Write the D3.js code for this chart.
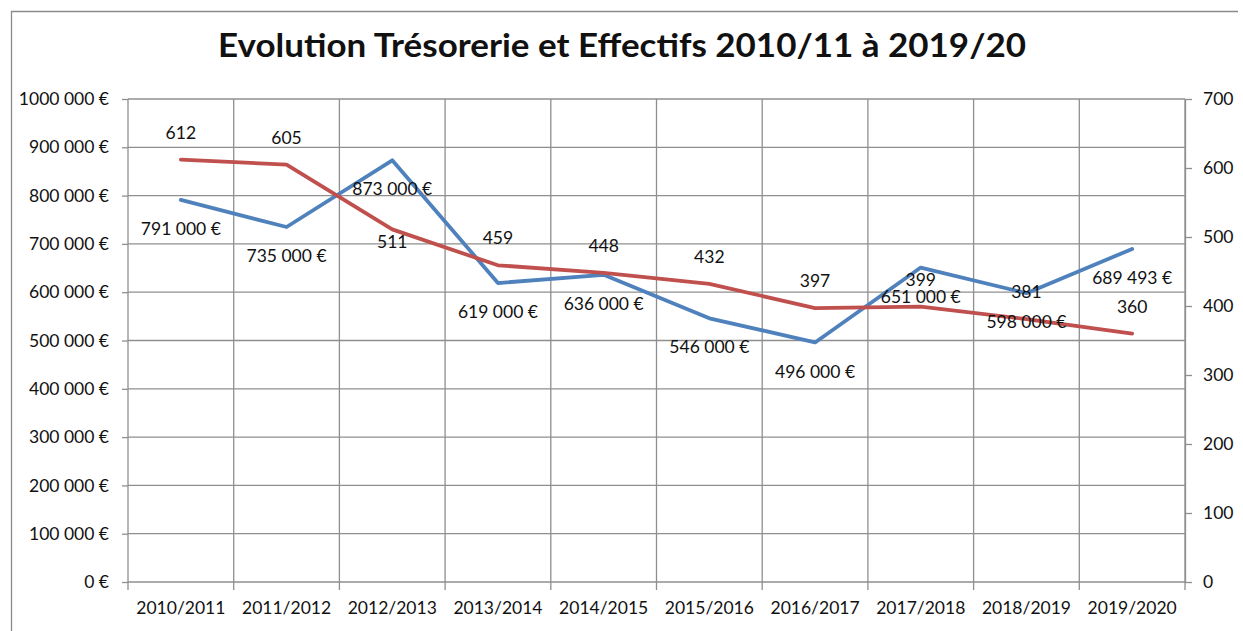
<!DOCTYPE html>
<html><head><meta charset="utf-8">
<script src="https://cdn.jsdelivr.net/npm/d3@7"></script>
<style>
body{margin:0;background:#fff}
svg text{font-family:Lato,"DejaVu Sans",sans-serif;fill:#111}
</style></head>
<body><svg id="c" width="1243" height="631"></svg>
<script>
const titleText = "Evolution Trésorerie et Effectifs 2010/11 à 2019/20";
const categories = ["2010/2011","2011/2012","2012/2013","2013/2014","2014/2015","2015/2016","2016/2017","2017/2018","2018/2019","2019/2020"];
const tresorerie = [791000,735000,873000,619000,636000,546000,496000,651000,598000,689493];
const effectifs = [612,605,511,459,448,432,397,399,381,360];
const leftTicks = [0,100000,200000,300000,400000,500000,600000,700000,800000,900000,1000000];
const leftTickLabels = ["0 €","100 000 €","200 000 €","300 000 €","400 000 €","500 000 €","600 000 €","700 000 €","800 000 €","900 000 €","1000 000 €"];
const rightTicks = [0,100,200,300,400,500,600,700];
const effLabelSide = ["above","above","below","above","above","above","above","above","above","above"];

const W = 1243, H = 631;
const m = {left:128, right:1185, top:99, bottom:582};
const svg = d3.select("#c");
const grid = "#8f8f8f";

const locale = d3.formatLocale({decimal:",", thousands:"\u00a0", grouping:[3], currency:["","\u00a0€"]});
const fmtEuro = locale.format("$,.0f");

// outer frame (top and left edges visible)
svg.append("path").attr("d", `M11.5,${H} V11.5 H1238`).attr("fill","none").attr("stroke","#8a8a8a").attr("stroke-width",1.3);

// title
svg.append("text").attr("x",622).attr("y",57).attr("text-anchor","middle")
  .attr("font-size",33).attr("font-weight","bold")
  .attr("textLength",808).attr("lengthAdjust","spacingAndGlyphs").text(titleText);

const x = d3.scaleBand().domain(categories).range([m.left, m.right]);
const yL = d3.scaleLinear().domain([0,1000000]).range([m.bottom, m.top]);
const yR = d3.scaleLinear().domain([0,700]).range([m.bottom, m.top]);

// horizontal gridlines
svg.append("g").selectAll("line").data(leftTicks).join("line")
  .attr("x1",m.left).attr("x2",m.right)
  .attr("y1",d=>yL(d)).attr("y2",d=>yL(d))
  .attr("stroke",grid).attr("stroke-width",1.3);

// vertical gridlines at category boundaries, with tick marks below
const bounds = categories.map(c=>x(c)).concat([x.range()[1]]);
svg.append("g").selectAll("line").data(bounds).join("line")
  .attr("x1",d=>d).attr("x2",d=>d)
  .attr("y1",m.top).attr("y2",m.bottom+8)
  .attr("stroke",grid).attr("stroke-width",1.3);

// left axis
const axL = svg.append("g").attr("transform",`translate(${m.left},0)`)
  .call(d3.axisLeft(yL).tickValues(leftTicks).tickFormat((d,i)=>leftTickLabels[i]).tickSizeInner(6).tickSizeOuter(0).tickPadding(13));
axL.select(".domain").remove();
axL.selectAll("line").attr("stroke",grid).attr("stroke-width",1.3);
axL.selectAll("text").attr("font-size",17.5).attr("font-family",null).attr("fill","#111");

// right axis
const axR = svg.append("g").attr("transform",`translate(${m.right},0)`)
  .call(d3.axisRight(yR).tickValues(rightTicks).tickFormat(d3.format("d")).tickSizeInner(7).tickSizeOuter(0).tickPadding(11));
axR.select(".domain").attr("stroke",grid).attr("stroke-width",1.3);
axR.selectAll("line").attr("stroke",grid).attr("stroke-width",1.3);
axR.selectAll("text").attr("font-size",17.5).attr("font-family",null).attr("fill","#111");

// bottom category labels
const axB = svg.append("g").attr("transform",`translate(0,${m.bottom})`)
  .call(d3.axisBottom(x).tickSize(0).tickPadding(20));
axB.select(".domain").remove();
axB.selectAll("text").attr("font-size",17.5).attr("font-family",null).attr("fill","#111");

const cx = c => x(c) + x.bandwidth()/2;

// lines
const lineT = d3.line().x((d,i)=>cx(categories[i])).y(d=>yL(d));
const lineE = d3.line().x((d,i)=>cx(categories[i])).y(d=>yR(d));
svg.append("path").datum(tresorerie).attr("d",lineT).attr("fill","none")
  .attr("stroke","#4F81BD").attr("stroke-width",3.8).attr("stroke-linejoin","round").attr("stroke-linecap","round");
svg.append("path").datum(effectifs).attr("d",lineE).attr("fill","none")
  .attr("stroke","#C0504D").attr("stroke-width",3.8).attr("stroke-linejoin","round").attr("stroke-linecap","round");

// data labels
svg.append("g").selectAll("text").data(tresorerie).join("text")
  .attr("x",(d,i)=>cx(categories[i])).attr("y",d=>yL(d)+29).attr("dy","0.35em")
  .attr("text-anchor","middle").attr("font-size",17.5).text(d=>fmtEuro(d));
svg.append("g").selectAll("text").data(effectifs).join("text")
  .attr("x",(d,i)=>cx(categories[i])).attr("y",(d,i)=>yR(d)+(effLabelSide[i]==="below"?12:-27)).attr("dy","0.35em")
  .attr("text-anchor","middle").attr("font-size",17.5).text(d=>d);
</script></body></html>
